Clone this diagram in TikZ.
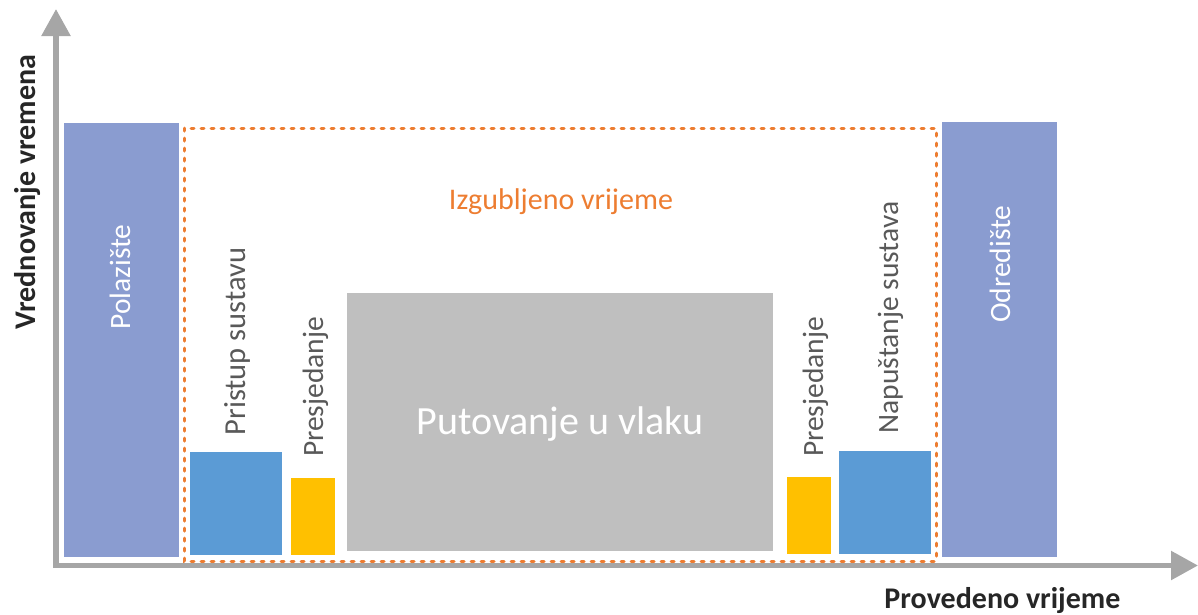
\documentclass[tikz,border=0pt]{standalone}
\usepackage{fontspec}
\setmainfont{Carlito}
\usetikzlibrary{arrows.meta}
\definecolor{endc}{HTML}{8A9CD0}
\definecolor{bluec}{HTML}{5B9BD5}
\definecolor{yellc}{HTML}{FFC000}
\definecolor{grayc}{HTML}{BFBFBF}
\definecolor{orangec}{HTML}{ED7D31}
\definecolor{axisc}{HTML}{A6A6A6}
\definecolor{txtgray}{HTML}{595959}
\definecolor{txtdark}{HTML}{262626}
\begin{document}
\begin{tikzpicture}[x=1pt,y=-1pt,
  axisline/.style={draw=axisc, line width=5.5pt, -{Triangle[length=27pt,width=28pt]}},
  vlbl/.style={font=\fontsize{29.5}{34}\selectfont, text=txtgray, rotate=90, anchor=base, inner sep=0pt},
  wlbl/.style={font=\fontsize{29.5}{34}\selectfont, text=white, rotate=90, anchor=base, inner sep=0pt},
  axlbl/.style={font=\fontsize{30}{34}\selectfont\bfseries, text=txtdark, anchor=base, inner sep=0pt},
  lostbox/.style={draw=orangec, line width=3pt, line cap=round, dash pattern=on 3pt off 7pt}
]
\useasboundingbox (0,0) rectangle (1198,614);
% bars
\fill[endc] (64,123) rectangle (179,557);
\fill[endc] (942,122) rectangle (1057,557);
\fill[bluec] (190,452) rectangle (282,555);
\fill[yellc] (291,478) rectangle (335,555);
\fill[grayc] (347,293) rectangle (773,551);
\fill[yellc] (787,477) rectangle (831,554);
\fill[bluec] (839,451) rectangle (931,554);
% lost time box
\draw[lostbox] (184,128) rectangle (936,561);
% axes
\coordinate (o) at (56,568);
\coordinate (ytip) at (56,9);
\coordinate (oh) at (53,565.5);
\coordinate (xtip) at (1198,565.5);
\draw[axisline] (o) -- (ytip);
\draw[axisline] (oh) -- (xtip);
% labels
\node[wlbl] (pol) at (130,277) {Polazište};
\node[wlbl] (odr) at (1010,264) {Odredište};
\node[vlbl, font=\fontsize{30.5}{34}\selectfont] (pri) at (245,341.5) {Pristup sustavu};
\node[vlbl] (pre1) at (323,387) {Presjedanje};
\node[vlbl] (pre2) at (823,387) {Presjedanje};
\node[vlbl] (nap) at (898,317.5) {Napuštanje sustava};
\node[font=\fontsize{30}{34}\selectfont, text=orangec, anchor=base, inner sep=0pt] (izg) at (561,209) {Izgubljeno vrijeme};
\node[font=\fontsize{40}{46}\selectfont, text=white, anchor=base, inner sep=0pt] (put) at (560,434) {Putovanje u vlaku};
\node[axlbl] (xl) at (1002.5,608) {Provedeno vrijeme};
\node[axlbl, rotate=90] (yl) at (35,192) {Vrednovanje vremena};
\end{tikzpicture}
\end{document}
